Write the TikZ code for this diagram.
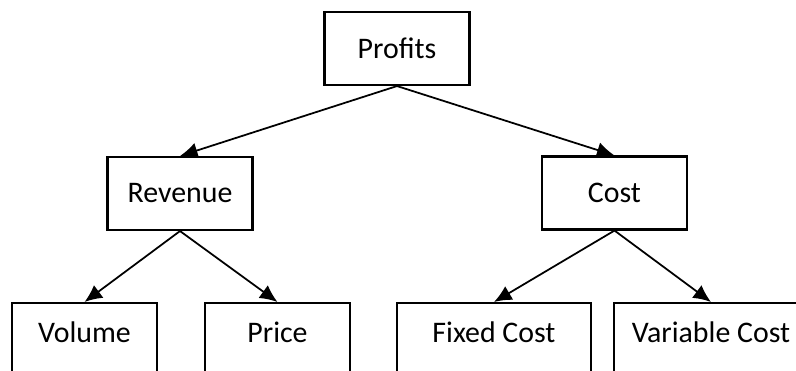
\documentclass[tikz,border=0pt]{standalone}
\usepackage{fontspec}
\setmainfont{Carlito}
\usetikzlibrary{arrows.meta}

\begin{document}
\begin{tikzpicture}[
  x=0.02cm, y=-0.02cm,
  font=\fontsize{17}{20}\selectfont,
  box/.style={draw=black, line width=1.2pt, minimum width=2.9cm, minimum height=1.46cm, inner sep=0pt},
  leaf/.style={box, minimum height=1.6cm, text depth=0.42cm},
  flow/.style={-{Latex[length=10pt,width=9pt]}, line width=1pt}
]
\useasboundingbox (0,0) rectangle (796,370);
\clip (0,0) rectangle (796,370);

\node[box] (profits) at (397,48.5) {Profits};

\node[box] (revenue) at (180,193.5) {Revenue};
\node[box] (cost) at (614.5,193) {Cost};

\node[leaf, anchor=north] (volume) at (84.5,302) {Volume};
\node[leaf, anchor=north] (price) at (277.5,302) {Price};
\node[leaf, anchor=north, minimum width=3.88cm] (fixed) at (494,302) {Fixed Cost};
\node[leaf, anchor=north, minimum width=3.88cm] (variable) at (711,302) {Variable Cost};

\draw[flow] (profits.south) -- (revenue.north);
\draw[flow] (profits.south) -- (cost.north);
\draw[flow] (revenue.south) -- (volume.north);
\draw[flow] (revenue.south) -- (price.north);
\draw[flow] (cost.south) -- (fixed.north);
\draw[flow] (cost.south) -- (variable.north);
\end{tikzpicture}
\end{document}
